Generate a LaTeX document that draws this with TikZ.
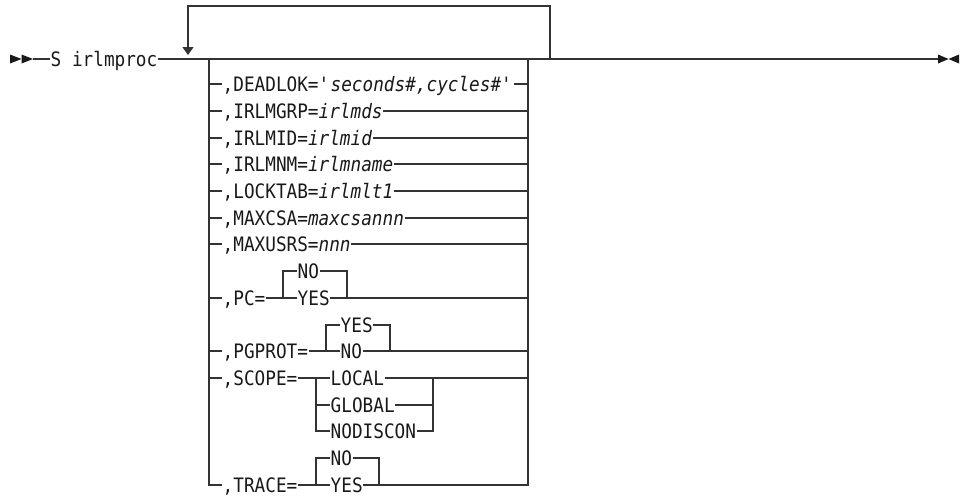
\documentclass[tikz,border=0pt]{standalone}
\usepackage{fontspec}
\newfontfamily\railfont[FakeStretch=0.89]{DejaVu Sans Mono}
\usetikzlibrary{arrows.meta}
\begin{document}
\begin{tikzpicture}[x=1pt,y=-1pt,
  rail/.style={line width=1.3pt, draw=black!80},
  lbl/.style={anchor=west, inner xsep=0.5pt, inner ysep=0pt, text height=14.5pt, text depth=0pt, text=black!90,
    font=\railfont\fontsize{19.9pt}{22pt}\selectfont},
  tipfill/.style={fill=black!90}]
\useasboundingbox (0,0) rectangle (964,498);
% start and end marks
\fill[tipfill] (10,54.5) -- (21.5,59) -- (10,63.5) -- cycle;
\fill[tipfill] (21.5,54.5) -- (33,59) -- (21.5,63.5) -- cycle;
\fill[tipfill] (938,54.5) -- (948.5,59) -- (938,63.5) -- cycle;
\fill[tipfill] (959,54.5) -- (948.5,59) -- (959,63.5) -- cycle;
\coordinate (start) at (33,59);
\coordinate (fin) at (938,59);
\coordinate (gL) at (209,59);
\coordinate (gR) at (528,59);
\coordinate (lpR) at (550,59);
\coordinate (lpL) at (188,55);
\node[lbl] (S) at (50,59) {S irlmproc};
\draw[rail] (start) -- (S.west);
\draw[rail] (S.east) -- (fin);
% repeat loop
\draw[rail,-{Triangle[width=11pt,length=8pt]}] (lpR) -- ++(0,-53) -| (lpL);
% simple rows
\coordinate (L0) at (209,84);  \coordinate (R0) at (528,84);
\coordinate (L1) at (209,111); \coordinate (R1) at (528,111);
\coordinate (L2) at (209,138); \coordinate (R2) at (528,138);
\coordinate (L3) at (209,164); \coordinate (R3) at (528,164);
\coordinate (L4) at (209,191); \coordinate (R4) at (528,191);
\coordinate (L5) at (209,218); \coordinate (R5) at (528,218);
\coordinate (L6) at (209,244); \coordinate (R6) at (528,244);
\node[lbl] (dl) at (222,84) {,DEADLOK=\itshape\textquotesingle seconds\#,cycles\#\textquotesingle};
\node[lbl] (grp) at (222,111) {,IRLMGRP=\itshape irlmds};
\node[lbl] (mid) at (222,138) {,IRLMID=\itshape irlmid};
\node[lbl] (nm) at (222,164) {,IRLMNM=\itshape irlmname};
\node[lbl] (lt) at (222,191) {,LOCKTAB=\itshape irlmlt1};
\node[lbl] (csa) at (222,218) {,MAXCSA=\itshape maxcsannn};
\node[lbl] (usr) at (222,244) {,MAXUSRS=\itshape nnn};
\draw[rail] (L0) -- (dl.west)  (dl.east) -- (R0);
\draw[rail] (L1) -- (grp.west) (grp.east) -- (R1);
\draw[rail] (L2) -- (mid.west) (mid.east) -- (R2);
\draw[rail] (L3) -- (nm.west)  (nm.east) -- (R3);
\draw[rail] (L4) -- (lt.west)  (lt.east) -- (R4);
\draw[rail] (L5) -- (csa.west) (csa.east) -- (R5);
\draw[rail] (L6) -- (usr.west) (usr.east) -- (R6);
% PC
\coordinate (L8) at (209,298); \coordinate (R8) at (528,298);
\coordinate (pcA) at (283,298); \coordinate (pcAt) at (283,271);
\coordinate (pcB) at (347,271); \coordinate (pcBb) at (347,298);
\node[lbl] (pc) at (222,298) {,PC=};
\node[lbl] (pcno) at (297,271) {NO};
\node[lbl] (pcyes) at (297,298) {YES};
\draw[rail] (L8) -- (pc.west) (pc.east) -- (pcyes.west) (pcyes.east) -- (R8);
\draw[rail] (pcA) -- (pcAt) -- (pcno.west);
\draw[rail] (pcno.east) -- (pcB) -- (pcBb);
% PGPROT
\coordinate (L10) at (209,351); \coordinate (R10) at (528,351);
\coordinate (pgA) at (326,351); \coordinate (pgAt) at (326,325);
\coordinate (pgB) at (390,325); \coordinate (pgBb) at (390,351);
\node[lbl] (pg) at (222,351) {,PGPROT=};
\node[lbl] (pgyes) at (340,325) {YES};
\node[lbl] (pgno) at (340,351) {NO};
\draw[rail] (L10) -- (pg.west) (pg.east) -- (pgno.west) (pgno.east) -- (R10);
\draw[rail] (pgA) -- (pgAt) -- (pgyes.west);
\draw[rail] (pgyes.east) -- (pgB) -- (pgBb);
% SCOPE
\coordinate (L11) at (209,378); \coordinate (R11) at (528,378);
\coordinate (scA) at (316,378); \coordinate (scAm) at (316,405); \coordinate (scAb) at (316,431);
\coordinate (scB) at (433,378); \coordinate (scBm) at (433,405); \coordinate (scBb) at (433,431);
\node[lbl] (sc) at (222,378) {,SCOPE=};
\node[lbl] (loc) at (330,378) {LOCAL};
\node[lbl] (glo) at (330,405) {GLOBAL};
\node[lbl] (nod) at (330,431) {NODISCON};
\draw[rail] (L11) -- (sc.west) (sc.east) -- (loc.west) (loc.east) -- (R11);
\draw[rail] (scA) -- (scAb) -- (nod.west);
\draw[rail] (scAm) -- (glo.west);
\draw[rail] (nod.east) -- (scBb) -- (scB);
\draw[rail] (glo.east) -- (scBm);
% TRACE
\coordinate (L15) at (209,485); \coordinate (R15) at (528,485);
\coordinate (trA) at (316,485); \coordinate (trAt) at (316,458);
\coordinate (trB) at (379,458); \coordinate (trBb) at (379,485);
\node[lbl] (tr) at (222,485) {,TRACE=};
\node[lbl] (trno) at (330,458) {NO};
\node[lbl] (tryes) at (330,485) {YES};
\draw[rail] (gL) -- (L15) -- (tr.west);
\draw[rail] (tr.east) -- (tryes.west);
\draw[rail] (tryes.east) -- (R15) -- (gR);
\draw[rail] (trA) -- (trAt) -- (trno.west);
\draw[rail] (trno.east) -- (trB) -- (trBb);
\end{tikzpicture}
\end{document}
